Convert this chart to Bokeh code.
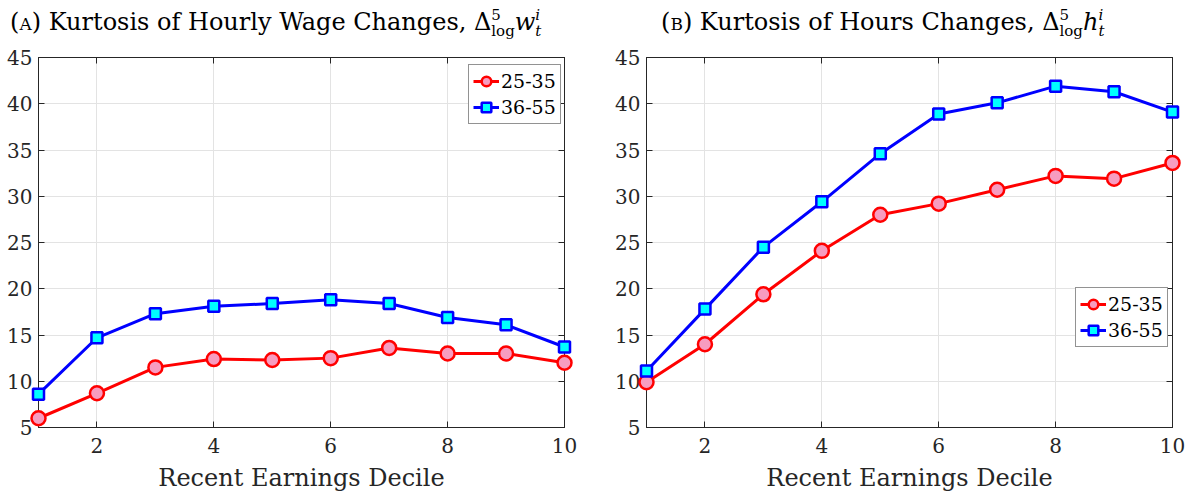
from bokeh.plotting import figure
from bokeh.models import (Div, FixedTicker, LinearAxis, Legend, LegendItem, Range1d,
                          CustomJSTickFormatter)
from bokeh.layouts import row, column
from bokeh.embed import file_html
from bokeh.resources import INLINE

# ---------------- data ----------------
deciles = [1, 2, 3, 4, 5, 6, 7, 8, 9, 10]
series_names = ["25-35", "36-55"]

wage_25_35 = [6.0, 8.7, 11.5, 12.4, 12.3, 12.5, 13.6, 13.0, 13.0, 12.0]
wage_36_55 = [8.6, 14.7, 17.3, 18.1, 18.4, 18.8, 18.4, 16.9, 16.1, 13.7]

hours_25_35 = [9.9, 14.0, 19.4, 24.1, 28.0, 29.2, 30.7, 32.2, 31.9, 33.6]
hours_36_55 = [11.1, 17.8, 24.5, 29.4, 34.6, 38.9, 40.1, 41.9, 41.3, 39.1]

x_ticks = [2, 4, 6, 8, 10]
y_ticks = [5, 10, 15, 20, 25, 30, 35, 40, 45]

FONT = "DejaVu Serif"
AX = "#262626"
GRID = "#e3e3e3"


def make_title(label, rest, sym, pad_left):
    scripts = ("display:inline-block;vertical-align:-6px;font-size:15px;"
               "line-height:16px;text-align:left;")
    html = (
        f'<div style="font-family:\'{FONT}\';font-size:24px;color:#000;'
        f'white-space:nowrap;line-height:1.2;padding-left:{pad_left}px;padding-top:7px;">'
        f'(<span style="font-variant:small-caps">{label}</span>) {rest} '
        f'&Delta;<span style="{scripts}"><span style="display:block">5</span>'
        f'<span style="display:block">log</span></span><i>{sym}</i>'
        f'<span style="{scripts}"><i style="display:block">i</i>'
        f'<i style="display:block">t</i></span></div>'
    )
    return html


def make_fig(width, left, right, y1, y2, legend_loc):
    p = figure(width=width, height=452, output_backend="svg", toolbar_location=None,
               x_range=Range1d(1, 10), y_range=Range1d(5, 45),
               min_border_left=left, min_border_right=right,
               min_border_top=12, min_border_bottom=70)
    p.background_fill_color = "white"
    p.border_fill_color = "white"
    p.outline_line_color = AX
    p.outline_line_width = 1

    for ax in (p.xaxis[0], p.yaxis[0]):
        ax.major_tick_in = 6
        ax.major_tick_out = 0
        ax.minor_tick_line_color = None
        ax.axis_line_color = AX
        ax.major_tick_line_color = AX
        ax.major_label_text_font = FONT
        ax.major_label_text_font_size = "20px"
        ax.major_label_text_color = AX
    p.xaxis[0].ticker = FixedTicker(ticks=x_ticks)
    p.yaxis[0].ticker = FixedTicker(ticks=y_ticks)
    p.xaxis[0].major_label_standoff = 10
    p.yaxis[0].major_label_standoff = 6
    p.xaxis[0].axis_label = "Recent Earnings Decile"
    p.xaxis[0].axis_label_text_font = FONT
    p.xaxis[0].axis_label_text_font_size = "24px"
    p.xaxis[0].axis_label_text_font_style = "normal"
    p.xaxis[0].axis_label_text_color = AX
    p.xaxis[0].axis_label_standoff = 8

    blank = CustomJSTickFormatter(code="return ''")
    top = LinearAxis(ticker=FixedTicker(ticks=x_ticks), major_tick_in=6, major_tick_out=0,
                     minor_tick_line_color=None, formatter=blank,
                     major_label_standoff=0, axis_line_color=AX, major_tick_line_color=AX)
    rgt = LinearAxis(ticker=FixedTicker(ticks=y_ticks), major_tick_in=6, major_tick_out=0,
                     minor_tick_line_color=None, formatter=blank,
                     major_label_standoff=0, axis_line_color=AX, major_tick_line_color=AX)
    p.add_layout(top, "above")
    p.add_layout(rgt, "right")

    p.xgrid.ticker = FixedTicker(ticks=x_ticks)
    p.ygrid.ticker = FixedTicker(ticks=y_ticks)
    p.xgrid.grid_line_color = GRID
    p.ygrid.grid_line_color = GRID

    l1 = p.line(deciles, y1, line_color="#ff0000", line_width=3, level="overlay")
    m1 = p.scatter(deciles, y1, marker="circle", size=14, fill_color="#f79cc0",
                   line_color="#ff0000", line_width=2.5, level="overlay")
    l2 = p.line(deciles, y2, line_color="#0000ff", line_width=3, level="overlay")
    m2 = p.scatter(deciles, y2, marker="square", size=11, fill_color="#00ffff",
                   line_color="#0000ff", line_width=2.5, level="overlay")

    legend = Legend(items=[LegendItem(label=series_names[0], renderers=[l1, m1]),
                           LegendItem(label=series_names[1], renderers=[l2, m2])],
                    location=legend_loc, label_text_font=FONT,
                    label_text_font_size="19px", label_text_color="#000",
                    glyph_width=26, glyph_height=24, label_standoff=2,
                    label_height=24, padding=4, spacing=2, margin=0,
                    border_line_color="#262626", border_line_width=1,
                    background_fill_color="white", background_fill_alpha=1)
    p.add_layout(legend, "center")
    return p


p1 = make_fig(597, 38, 33, wage_25_35, wage_36_55, (430, 303))
p2 = make_fig(598, 49, 23, hours_25_35, hours_36_55, (429, 80))

t1 = Div(text=make_title("a", "Kurtosis of Hourly Wage Changes,", "w", 10),
         width=597, height=45, margin=(0, 0, 0, 0))
t2 = Div(text=make_title("b", "Kurtosis of Hours Changes,", "h", 64),
         width=598, height=45, margin=(0, 0, 0, 0))

layout = row(column(t1, p1, spacing=0), column(t2, p2, spacing=0), spacing=0)

open("out.html", "w").write(file_html(layout, INLINE))
